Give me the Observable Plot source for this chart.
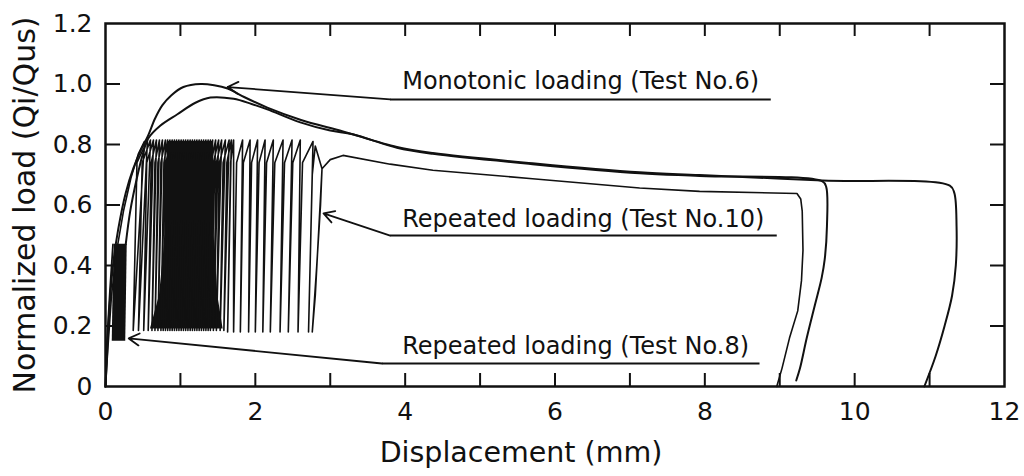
<!DOCTYPE html>
<html><head><meta charset="utf-8">
<script src="https://cdn.jsdelivr.net/npm/d3@7"></script>
<script src="https://cdn.jsdelivr.net/npm/@observablehq/plot@0.6"></script>
<style>body{margin:0;background:#fff}</style>
</head><body><div id="chart"></div>
<script>
// Monotonic loading (Test No.6): [displacement mm, normalized load]
const test6 = [[0,0],[0.02,0.1],[0.05,0.25],[0.1,0.4],[0.17,0.52],[0.27,0.64],[0.37,0.72],[0.47,0.78],[0.57,0.83],[0.66,0.885],[0.76,0.93],[0.88,0.963],[1.04,0.99],[1.27,1.0],[1.45,0.996],[1.63,0.985],[1.85,0.957],[2.16,0.922],[2.6,0.882],[3.17,0.843],[3.89,0.792],[4.37,0.772],[5.7,0.738],[7.13,0.708],[7.93,0.699],[9.57,0.681],[11.27,0.664],[11.33,0.64],[11.36,0.53],[11.35,0.4],[11.3,0.3],[11.2,0.2],[11.08,0.1],[10.93,0]];

// Repeated loading (Test No.8): initial loading, dense cycles block, then loading to failure
const test8Start = [[0,0],[0.02,0.15],[0.06,0.32],[0.1,0.47]];
const test8Block = [{y:0.15,x1:0.09,x2:0.27},{y:0.3,x1:0.1,x2:0.28},{y:0.47,x1:0.12,x2:0.29}];
const test8 = [[0.27,0.47],[0.33,0.58],[0.42,0.69],[0.5,0.77],[0.57,0.82],[0.73,0.862],[0.96,0.9],[1.2,0.938],[1.4,0.955],[1.71,0.951],[1.95,0.934],[2.16,0.916],[2.6,0.873],[3.0,0.846],[3.3,0.834],[3.89,0.789],[4.37,0.769],[5.7,0.735],[7.13,0.705],[7.93,0.696],[9.57,0.678],[9.62,0.66],[9.63,0.53],[9.6,0.42],[9.56,0.36],[9.47,0.27],[9.36,0.16],[9.27,0.06],[9.22,0.02]];

// Repeated loading (Test No.10): cycles between ~0.19 and ~0.81 then loading to failure
const test10 = [
[0,0],[0.03,0.12],[0.08,0.3],[0.15,0.45],[0.24,0.58],[0.34,0.69],[0.44,0.77],[0.52,0.81],
[0.37,0.185],[0.42,0.74],[0.56,0.815],
[0.44,0.185],[0.49,0.74],[0.60,0.815],
[0.51,0.185],[0.55,0.74],[0.64,0.815],
[0.57,0.185],[0.61,0.74],[0.68,0.815],
[0.62,0.185],[0.66,0.74],[0.72,0.815],
[0.66,0.185],[0.70,0.74],[0.76,0.815],
[0.70,0.185],[0.74,0.74],[0.80,0.815],
[0.74,0.185],[0.78,0.74],[0.83,0.815],
[0.77,0.185],[0.81,0.74],[0.86,0.815],
[0.80,0.185],[0.84,0.74],[0.89,0.815],
[0.83,0.185],[0.87,0.74],[0.92,0.815],
[0.86,0.185],[0.90,0.74],[0.95,0.815],
[0.89,0.185],[0.93,0.74],[0.98,0.815],
[0.92,0.185],[0.96,0.74],[1.01,0.815],
[0.95,0.185],[0.99,0.74],[1.04,0.815],
[0.98,0.185],[1.02,0.74],[1.07,0.815],
[1.01,0.185],[1.05,0.74],[1.10,0.815],
[1.04,0.185],[1.08,0.74],[1.13,0.815],
[1.07,0.185],[1.11,0.74],[1.16,0.815],
[1.10,0.185],[1.14,0.74],[1.19,0.815],
[1.13,0.185],[1.17,0.74],[1.22,0.815],
[1.16,0.185],[1.20,0.74],[1.25,0.815],
[1.19,0.185],[1.23,0.74],[1.28,0.815],
[1.22,0.185],[1.26,0.74],[1.31,0.815],
[1.25,0.185],[1.29,0.74],[1.34,0.815],
[1.28,0.185],[1.32,0.74],[1.37,0.815],
[1.31,0.185],[1.35,0.74],[1.40,0.815],
[1.34,0.185],[1.38,0.74],[1.43,0.815],
[1.37,0.185],[1.41,0.74],[1.47,0.815],
[1.40,0.185],[1.44,0.74],[1.51,0.815],
[1.44,0.185],[1.48,0.74],[1.55,0.815],
[1.48,0.185],[1.52,0.74],[1.60,0.815],
[1.53,0.185],[1.57,0.74],[1.65,0.815],
[1.58,0.185],[1.62,0.74],[1.68,0.815],
[1.63,0.18],[1.67,0.74],[1.71,0.815],
[1.71,0.18],[1.75,0.74],[1.83,0.815],
[1.80,0.18],[1.84,0.74],[1.93,0.815],
[1.91,0.18],[1.95,0.74],[2.03,0.815],
[2.00,0.18],[2.05,0.74],[2.13,0.815],
[2.10,0.18],[2.15,0.74],[2.24,0.815],
[2.20,0.18],[2.26,0.74],[2.37,0.815],
[2.33,0.18],[2.39,0.74],[2.49,0.815],
[2.44,0.18],[2.50,0.74],[2.60,0.815],
[2.57,0.18],[2.63,0.74],[2.77,0.81],
[2.71,0.18],[2.76,0.70],[2.80,0.795],[2.89,0.72],
[2.80,0.3],[2.76,0.18],[2.82,0.4],[2.87,0.6],[2.89,0.72],
[3.0,0.75],[3.17,0.764],[3.8,0.735],[4.37,0.715],[5.7,0.687],[7.13,0.656],[7.93,0.645],[9.23,0.638],[9.28,0.62],[9.3,0.58],[9.31,0.45],[9.29,0.35],[9.24,0.25],[9.13,0.16],[9.03,0.06],[8.96,0]
];
// Densest, fully inked part of the Test No.10 cycles
const test10Core = [{y:0.19,x1:0.6,x2:1.57},{y:0.3,x1:0.72,x2:1.5},{y:0.5,x1:0.8,x2:1.45},{y:0.7,x1:0.82,x2:1.45},{y:0.81,x1:0.84,x2:1.44}];

// Annotations
const annLabels = ["Monotonic loading (Test No.6)", "Repeated loading (Test No.10)", "Repeated loading (Test No.8)"];
const annTextX = [3.96, 3.96, 3.96];
const annTextY = [0.985, 0.526, 0.109];
const ulX1 = [3.8, 3.8, 3.69];
const ulX2 = [8.88, 8.96, 8.73];
const ulY = [0.949, 0.499, 0.076];
const tipX = [1.63, 2.91, 0.31];
const tipY = [0.99, 0.572, 0.159];

// Axes
const xMajorTicks = [0, 2, 4, 6, 8, 10, 12];
const xMinorTicks = [1, 2, 3, 4, 5, 6, 7, 8, 9, 10, 11];
const yTicks = [0, 0.2, 0.4, 0.6, 0.8, 1.0, 1.2];
const yInnerTicks = [0.2, 0.4, 0.6, 0.8, 1.0];
const xLabel = "Displacement (mm)";
const yLabel = "Normalized load (Qi/Qus)";

const ink = "#111";
const chart = Plot.plot({
  width: 1024, height: 476,
  marginLeft: 105, marginRight: 20, marginTop: 23, marginBottom: 90,
  style: {fontFamily: "DejaVu Sans", background: "#fff", color: ink},
  x: {domain: [0, 12]},
  y: {domain: [0, 1.2]},
  marks: [
    Plot.axisX(xMinorTicks, {anchor: "bottom", tickSize: -13, tickFormat: () => "", label: null, strokeWidth: 2}),
    Plot.axisX(xMinorTicks, {anchor: "top", tickSize: -12, tickFormat: () => "", label: null, strokeWidth: 2}),
    Plot.axisY(yInnerTicks, {anchor: "left", tickSize: -15, tickFormat: () => "", label: null, strokeWidth: 2}),
    Plot.axisY(yInnerTicks, {anchor: "right", tickSize: -15, tickFormat: () => "", label: null, strokeWidth: 2}),
    Plot.axisX(xMajorTicks, {anchor: "bottom", tickSize: 0, tickPadding: 16, fontSize: 25, label: null, tickFormat: d => String(d)}),
    Plot.axisY(yTicks, {anchor: "left", tickSize: 0, tickPadding: 13, fontSize: 25, label: null, tickFormat: d => d === 0 ? "0" : d.toFixed(1)}),
    Plot.frame({stroke: ink, strokeWidth: 2.5}),
    Plot.areaX(test8Block, {y: "y", x1: "x1", x2: "x2", fill: ink, curve: "linear"}),
    Plot.areaX(test10Core, {y: "y", x1: "x1", x2: "x2", fill: ink, curve: "linear"}),
    Plot.line(test8Start, {x: d => d[0], y: d => d[1], stroke: ink, strokeWidth: 1.8}),
    Plot.line(test10, {x: d => d[0], y: d => d[1], stroke: ink, strokeWidth: 1.6, curve: "linear"}),
    Plot.line(test8, {x: d => d[0], y: d => d[1], stroke: ink, strokeWidth: 2, curve: "catmull-rom"}),
    Plot.line(test6, {x: d => d[0], y: d => d[1], stroke: ink, strokeWidth: 2, curve: "catmull-rom"}),
    Plot.link(annLabels, {x1: (d, i) => ulX1[i], x2: (d, i) => ulX2[i], y1: (d, i) => ulY[i], y2: (d, i) => ulY[i], stroke: ink, strokeWidth: 2}),
    Plot.arrow(annLabels, {x1: (d, i) => ulX1[i], y1: (d, i) => ulY[i], x2: (d, i) => tipX[i], y2: (d, i) => tipY[i], stroke: ink, strokeWidth: 1.8, headLength: 10, bend: 0}),
    Plot.text(annLabels, {x: (d, i) => annTextX[i], y: (d, i) => annTextY[i], text: d => d, textAnchor: "start", lineAnchor: "bottom", fontSize: 24, fill: ink}),
    Plot.text([xLabel], {frameAnchor: "bottom", text: d => d, dy: 66, dx: -34, fontSize: 28.5, fill: ink, textAnchor: "middle", lineAnchor: "middle"}),
    Plot.text([yLabel], {frameAnchor: "left", text: d => d, rotate: -90, dx: -80, fontSize: 30, fill: ink, textAnchor: "middle", lineAnchor: "middle"})
  ]
});
document.getElementById("chart").appendChild(chart);
</script>
</body></html>
